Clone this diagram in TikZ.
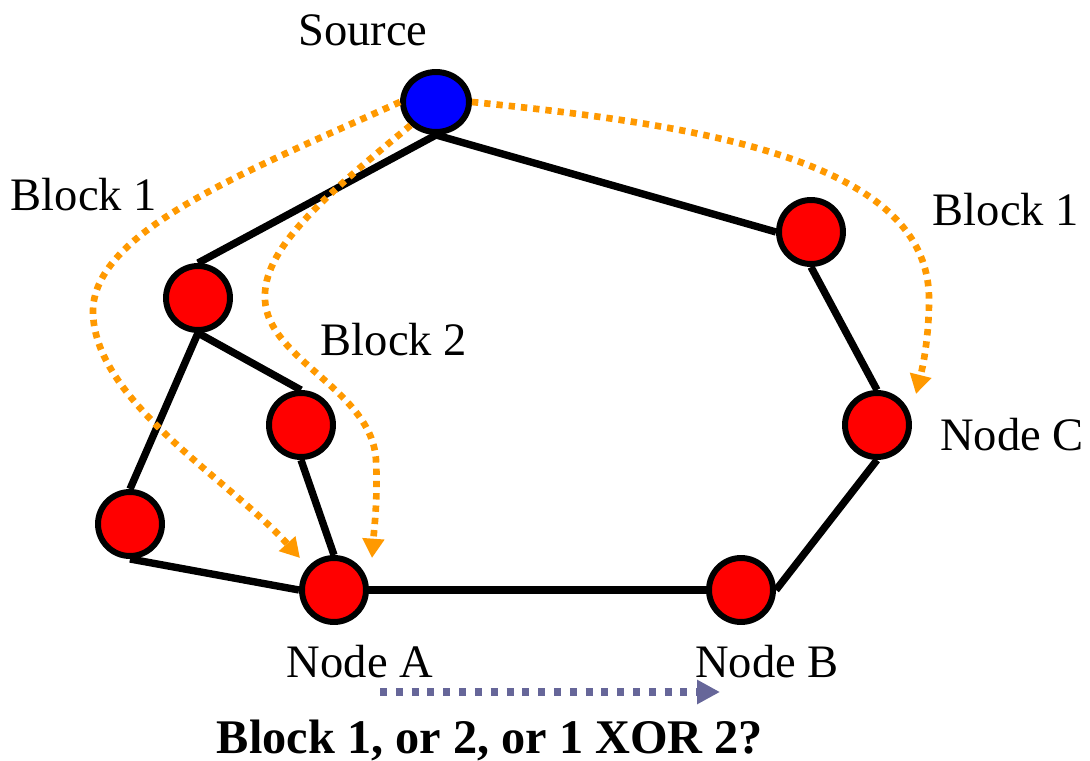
\documentclass[tikz,border=0pt]{standalone}
\usepackage{fontspec}
\setmainfont{Liberation Serif}
\usetikzlibrary{arrows.meta,shapes.geometric}
\definecolor{flow}{RGB}{255,153,0}
\definecolor{slate}{RGB}{102,102,153}
\begin{document}
\begin{tikzpicture}[x=0.02cm,y=-0.02cm,
  redv/.style={circle,draw,line width=3.4pt,fill=red,minimum size=1.28cm,inner sep=0pt},
  link/.style={line width=4.2pt},
  blk/.style={flow,line width=3.8pt,dash pattern=on 3.6pt off 3.4pt,-{Triangle[length=11pt,width=12pt]}},
  lbl/.style={font=\fontsize{26.5}{30}\selectfont}]
\useasboundingbox (0,0) rectangle (1090,761);
\node[ellipse,draw,line width=3.4pt,fill=blue,minimum width=1.32cm,minimum height=1.2cm,inner sep=0pt] (v1) at (436,102) {};
\node[redv] (v2) at (198,298) {};
\node[redv] (v3) at (301,425) {};
\node[redv] (v4) at (130,524) {};
\node[redv] (v5) at (334,590) {};
\node[redv] (v6) at (741,590) {};
\node[redv] (v7) at (877,425) {};
\node[redv] (v8) at (811,232) {};

\draw[link] (v1.south) -- (v2.north);
\draw[link] (v1.south) -- (v8.west);
\draw[link] (v2.south) -- (v4.north);
\draw[link] (v2.south) -- (v3.north);
\draw[link] (v3.south) -- (v5.north);
\draw[link] (v4.south) -- (v5.west);
\draw[link] (v5.east) -- (v6.west);
\draw[link] (v6.east) -- (v7.south);
\draw[link] (v7.north) -- (v8.south);

\coordinate (a1) at (300,558);
\coordinate (a2) at (372,558);
\coordinate (a3) at (916,394);
\draw[blk] (v1.west) .. controls (250,170) and (95,230) .. (93,310) .. controls (92,400) and (230,480) .. (a1);
\draw[blk] (v1.south west) .. controls (320,200) and (262,250) .. (265,300) .. controls (268,360) and (372,390) .. (376,460) .. controls (378,500) and (374,530) .. (a2);
\draw[blk] (v1.east) .. controls (700,125) and (930,160) .. (929,300) .. controls (929,340) and (922,370) .. (a3);

\node[lbl] (t1) at (363,30) {Source};
\node[lbl] (t2) at (84,195) {Block 1};
\node[lbl] (t3) at (394,340) {Block 2};
\node[lbl] (t4) at (1006,210) {Block 1};
\node[lbl] (t5) at (1012,435) {Node C};
\node[lbl] (t6) at (360,662) {Node A};
\node[lbl] (t7) at (767,662) {Node B};
\node[lbl,font=\fontsize{27.5}{30}\selectfont\bfseries] (t8) at (490,740) {Block 1, or 2, or 1 XOR 2?};

\coordinate (b1) at (380,692);
\coordinate (b2) at (720,692);
\draw[slate,line width=4pt,dash pattern=on 4pt off 5pt,-{Triangle[length=13pt,width=13pt]}] (b1) -- (b2);
\end{tikzpicture}
\end{document}
